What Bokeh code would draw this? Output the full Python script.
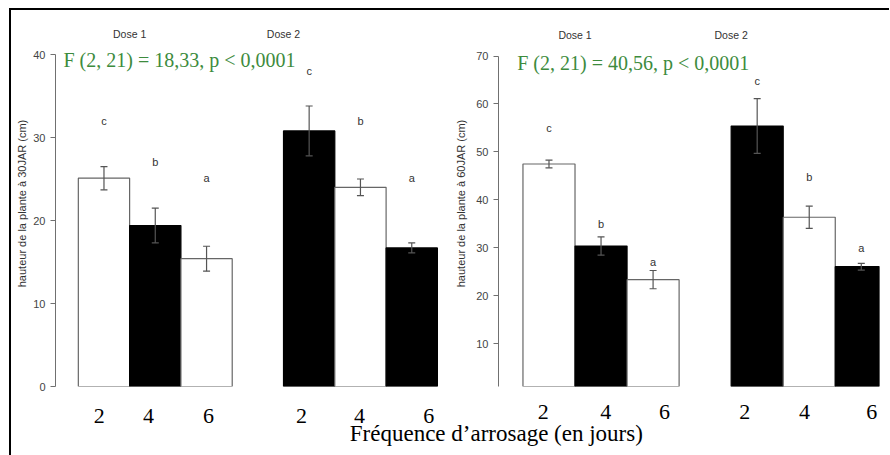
from bokeh.plotting import figure
from bokeh.layouts import row, column
from bokeh.models import Range1d, FixedTicker, ColumnDataSource, Whisker, TeeHead
from bokeh.core.properties import value
from bokeh.embed import file_html
from bokeh.resources import INLINE

# ---------------- data ----------------
freq_labels = ["2", "4", "6"]
dose_labels = ["Dose 1", "Dose 2"]

h30_mean = [25.1, 19.4, 15.4, 30.8, 24.0, 16.7]
h30_err = [1.4, 2.1, 1.5, 3.0, 1.0, 0.6]
h30_letters = ["c", "b", "a", "c", "b", "a"]
h30_letter_y = [32.0, 27.0, 25.1, 38.0, 32.0, 25.1]
h30_stat = "F (2, 21) = 18,33, p < 0,0001"

h60_mean = [47.5, 30.4, 23.4, 55.4, 36.4, 26.1]
h60_err = [0.8, 1.9, 1.9, 5.7, 2.3, 0.7]
h60_letters = ["c", "b", "a", "c", "b", "a"]
h60_letter_y = [55.0, 35.0, 27.1, 64.8, 44.8, 30.0]
h60_stat = "F (2, 21) = 40,56, p < 0,0001"

x_label = "Fréquence d’arrosage (en jours)"

# ---------------- layout helpers ----------------
bar_x = [1, 2, 3, 5, 6, 7]
fills = ["white", "black", "white", "black", "white", "black"]
outlines = ["#666666", "black", "#666666", "black", "#666666", "black"]
dose_x = [1.5, 4.5]
SERIF = value("Liberation Serif")
SANS = value("Liberation Sans")
GREEN = "#3d8b3d"


def panel(mean, err, letters, letter_y, stat, width, height, xr, yr, ticks, bounds,
          xticks, mb_left, mb_right, mb_bottom, standoff, ylabel, dose_y, stat_pos, lab_standoff):
    p = figure(width=width, height=height, x_range=Range1d(*xr), y_range=Range1d(*yr),
               min_border_left=mb_left, min_border_right=mb_right, min_border_top=10,
               min_border_bottom=mb_bottom, output_backend="svg", toolbar_location=None)
    p.outline_line_color = None
    p.grid.visible = False
    p.background_fill_color = "white"
    p.border_fill_color = "white"

    src = ColumnDataSource(dict(x=bar_x, top=mean, fill=fills, line=outlines,
                                upper=[m + e for m, e in zip(mean, err)],
                                lower=[m - e for m, e in zip(mean, err)],
                                lab=letters, ly=letter_y))
    p.vbar(x="x", top="top", bottom=0, width=1.0, fill_color="fill", line_color="line",
           line_width=1.2, source=src)
    w = Whisker(source=src, base="x", upper="upper", lower="lower", line_color="#555555",
                line_width=1.2,
                upper_head=TeeHead(size=7, line_color="#555555", line_width=1.2),
                lower_head=TeeHead(size=7, line_color="#555555", line_width=1.2),
                level="overlay")
    p.add_layout(w)
    p.text(x="x", y="ly", text="lab", source=src, text_font=SANS, text_font_size="11px",
           text_align="center", text_baseline="middle", text_color="#333333")
    p.text(x=dose_x, y=[dose_y] * 2, text=dose_labels, text_font=SANS, text_font_size="10.5px",
           text_align="center", text_baseline="middle", text_color="#333333")
    p.text(x=[stat_pos[0]], y=[stat_pos[1]], text=[stat], text_font=SERIF,
           text_font_size="20px", text_align="left", text_baseline="middle", text_color=GREEN)

    ya = p.yaxis[0]
    ya.ticker = FixedTicker(ticks=ticks)
    ya.bounds = bounds
    ya.axis_line_color = "#707070"
    ya.major_tick_line_color = "#707070"
    ya.minor_tick_line_color = None
    ya.major_tick_out = 5
    ya.major_tick_in = 0
    ya.major_label_standoff = 5
    ya.major_label_text_font = "Liberation Sans"
    ya.major_label_text_font_size = "11px"
    ya.major_label_text_color = "#444444"
    ya.axis_label = ylabel
    ya.axis_label_text_font = "Liberation Sans"
    ya.axis_label_text_font_size = "11px"
    ya.axis_label_text_font_style = "normal"
    ya.axis_label_text_color = "#333333"
    ya.axis_label_standoff = lab_standoff

    xa = p.xaxis[0]
    xa.ticker = FixedTicker(ticks=xticks)
    xa.major_label_overrides = {t: freq_labels[i % 3] for i, t in enumerate(xticks)}
    xa.axis_line_color = None
    xa.major_tick_line_color = None
    xa.minor_tick_line_color = None
    xa.major_tick_out = 0
    xa.major_tick_in = 0
    xa.major_label_standoff = standoff
    xa.major_label_text_font = "Liberation Serif"
    xa.major_label_text_font_size = "22px"
    xa.major_label_text_color = "black"
    return p


p1 = panel(h30_mean, h30_err, h30_letters, h30_letter_y, h30_stat,
           width=435, height=423, xr=(0.055, 7.58), yr=(0, 44.1),
           ticks=[0, 10, 20, 30, 40], bounds=(0, 40),
           xticks=[0.91, 1.87, 3.04, 4.85, 5.98, 7.33],
           mb_left=44, mb_right=5, mb_bottom=47, standoff=22,
           ylabel="hauteur de la plante à 30JAR (cm)", dose_y=42.5, stat_pos=(0.21, 39.4),
           lab_standoff=2)

p2 = panel(h60_mean, h60_err, h60_letters, h60_letter_y, h60_stat,
           width=437, height=423, xr=(0.03, 7.35), yr=(1.13, 77.4),
           ticks=[10, 20, 30, 40, 50, 60, 70], bounds=(1.13, 70),
           xticks=[0.89, 2.09, 3.22, 4.76, 5.91, 7.2],
           mb_left=52, mb_right=4, mb_bottom=43, standoff=18,
           ylabel="hauteur de la plante à 60JAR (cm)", dose_y=74.3, stat_pos=(0.39, 68.6),
           lab_standoff=6)

p3 = figure(width=872, height=40, x_range=Range1d(0, 1), y_range=Range1d(0, 1),
            x_axis_type=None, y_axis_type=None, min_border=0, title=None,
            output_backend="svg", toolbar_location=None)
p3.outline_line_color = None
p3.grid.visible = False
p3.background_fill_color = None
p3.border_fill_color = None
p3.text(x=[0.556], y=[0.55], text=[x_label], text_font=SERIF, text_font_size="23px",
        text_align="center", text_baseline="alphabetic", text_color="black")
p3.margin = (-18, 0, 0, 0)

layout = column(row(p1, p2), p3,
                styles={"border-left": "2px solid black", "border-top": "2px solid black",
                        "margin-left": "9px", "margin-top": "8px",
                        "padding-right": "6px"})

open("out.html", "w").write(file_html(layout, INLINE))
